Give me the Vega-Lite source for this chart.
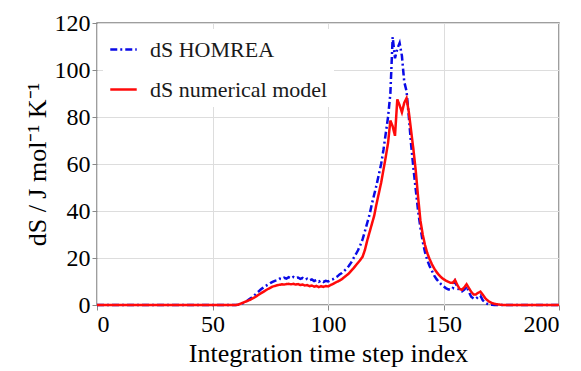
{
  "$schema": "https://vega.github.io/schema/vega-lite/v6.json",
  "autosize": {"type": "none"},
  "width": 462,
  "height": 282,
  "padding": {"left": 97, "top": 23, "right": 22, "bottom": 66},
  "background": "white",
  "config": {
    "view": {"stroke": "#7f7f7f", "strokeWidth": 1.5}
  },
  "data": {
    "values": [
      {"i": 0, "dS HOMREA": 0, "dS numerical model": 0},
      {"i": 10, "dS HOMREA": 0, "dS numerical model": 0},
      {"i": 20, "dS HOMREA": 0, "dS numerical model": 0},
      {"i": 30, "dS HOMREA": 0, "dS numerical model": 0},
      {"i": 40, "dS HOMREA": 0, "dS numerical model": 0},
      {"i": 50, "dS HOMREA": 0, "dS numerical model": 0},
      {"i": 55, "dS HOMREA": 0, "dS numerical model": 0},
      {"i": 60, "dS HOMREA": 0, "dS numerical model": 0},
      {"i": 61, "dS HOMREA": 0.1, "dS numerical model": 0.1},
      {"i": 62, "dS HOMREA": 0.3, "dS numerical model": 0.5},
      {"i": 63, "dS HOMREA": 0.7, "dS numerical model": 0.9},
      {"i": 64, "dS HOMREA": 1.2, "dS numerical model": 1.3},
      {"i": 65, "dS HOMREA": 1.8, "dS numerical model": 1.7},
      {"i": 66, "dS HOMREA": 2.5, "dS numerical model": 2.1},
      {"i": 67, "dS HOMREA": 3.2, "dS numerical model": 2.6},
      {"i": 68, "dS HOMREA": 4.0, "dS numerical model": 3.1},
      {"i": 69, "dS HOMREA": 4.9, "dS numerical model": 3.7},
      {"i": 70, "dS HOMREA": 5.8, "dS numerical model": 4.4},
      {"i": 71, "dS HOMREA": 6.7, "dS numerical model": 5.0},
      {"i": 72, "dS HOMREA": 7.4, "dS numerical model": 5.6},
      {"i": 73, "dS HOMREA": 8.1, "dS numerical model": 6.2},
      {"i": 74, "dS HOMREA": 8.7, "dS numerical model": 6.8},
      {"i": 75, "dS HOMREA": 9.3, "dS numerical model": 7.3},
      {"i": 76, "dS HOMREA": 9.8, "dS numerical model": 7.8},
      {"i": 77, "dS HOMREA": 10.3, "dS numerical model": 8.1},
      {"i": 78, "dS HOMREA": 10.6, "dS numerical model": 8.4},
      {"i": 79, "dS HOMREA": 11.2, "dS numerical model": 8.6},
      {"i": 80, "dS HOMREA": 11.0, "dS numerical model": 8.8},
      {"i": 81, "dS HOMREA": 11.6, "dS numerical model": 8.7},
      {"i": 82, "dS HOMREA": 11.2, "dS numerical model": 8.9},
      {"i": 83, "dS HOMREA": 11.8, "dS numerical model": 9.0},
      {"i": 84, "dS HOMREA": 11.3, "dS numerical model": 8.8},
      {"i": 85, "dS HOMREA": 11.9, "dS numerical model": 9.0},
      {"i": 86, "dS HOMREA": 11.4, "dS numerical model": 8.7},
      {"i": 87, "dS HOMREA": 11.7, "dS numerical model": 8.9},
      {"i": 88, "dS HOMREA": 11.1, "dS numerical model": 8.5},
      {"i": 89, "dS HOMREA": 11.5, "dS numerical model": 8.7},
      {"i": 90, "dS HOMREA": 10.8, "dS numerical model": 8.3},
      {"i": 91, "dS HOMREA": 11.2, "dS numerical model": 8.5},
      {"i": 92, "dS HOMREA": 10.5, "dS numerical model": 8.0},
      {"i": 93, "dS HOMREA": 10.9, "dS numerical model": 8.3},
      {"i": 94, "dS HOMREA": 10.2, "dS numerical model": 7.8},
      {"i": 95, "dS HOMREA": 10.6, "dS numerical model": 8.1},
      {"i": 96, "dS HOMREA": 9.9, "dS numerical model": 7.6},
      {"i": 97, "dS HOMREA": 10.4, "dS numerical model": 8.0},
      {"i": 98, "dS HOMREA": 9.8, "dS numerical model": 7.7},
      {"i": 99, "dS HOMREA": 10.3, "dS numerical model": 8.1},
      {"i": 100, "dS HOMREA": 10.0, "dS numerical model": 7.9},
      {"i": 101, "dS HOMREA": 10.5, "dS numerical model": 8.4},
      {"i": 102, "dS HOMREA": 10.9, "dS numerical model": 8.9},
      {"i": 103, "dS HOMREA": 11.5, "dS numerical model": 9.4},
      {"i": 104, "dS HOMREA": 12.1, "dS numerical model": 9.9},
      {"i": 105, "dS HOMREA": 13.0, "dS numerical model": 10.4},
      {"i": 106, "dS HOMREA": 13.6, "dS numerical model": 11.0},
      {"i": 107, "dS HOMREA": 14.5, "dS numerical model": 11.8},
      {"i": 108, "dS HOMREA": 15.4, "dS numerical model": 12.6},
      {"i": 109, "dS HOMREA": 16.6, "dS numerical model": 13.4},
      {"i": 110, "dS HOMREA": 18.0, "dS numerical model": 14.5},
      {"i": 111, "dS HOMREA": 19.8, "dS numerical model": 15.6},
      {"i": 112, "dS HOMREA": 21.5, "dS numerical model": 16.8},
      {"i": 113, "dS HOMREA": 23.3, "dS numerical model": 18.0},
      {"i": 114, "dS HOMREA": 25.5, "dS numerical model": 19.2},
      {"i": 115, "dS HOMREA": 28.0, "dS numerical model": 20.6},
      {"i": 116, "dS HOMREA": 31.5, "dS numerical model": 23.5},
      {"i": 117, "dS HOMREA": 35.0, "dS numerical model": 27.5},
      {"i": 118, "dS HOMREA": 38.5, "dS numerical model": 31.0},
      {"i": 119, "dS HOMREA": 43.0, "dS numerical model": 34.5},
      {"i": 120, "dS HOMREA": 47.0, "dS numerical model": 38.0},
      {"i": 121, "dS HOMREA": 51.0, "dS numerical model": 43.0},
      {"i": 122, "dS HOMREA": 55.5, "dS numerical model": 47.5},
      {"i": 123, "dS HOMREA": 60.0, "dS numerical model": 52.0},
      {"i": 124, "dS HOMREA": 66.0, "dS numerical model": 57.5},
      {"i": 125, "dS HOMREA": 73.0, "dS numerical model": 63.0},
      {"i": 126, "dS HOMREA": 80.0, "dS numerical model": 69.0},
      {"i": 127, "dS HOMREA": 90.0, "dS numerical model": 78.5},
      {"i": 128, "dS HOMREA": 114.0, "dS numerical model": 76.0},
      {"i": 129, "dS HOMREA": 105.0, "dS numerical model": 72.0},
      {"i": 130, "dS HOMREA": 109.0, "dS numerical model": 87.5},
      {"i": 131, "dS HOMREA": 111.5, "dS numerical model": 85.0},
      {"i": 132, "dS HOMREA": 106.0, "dS numerical model": 82.0},
      {"i": 133, "dS HOMREA": 95.0, "dS numerical model": 86.0},
      {"i": 134, "dS HOMREA": 91.0, "dS numerical model": 88.0},
      {"i": 135, "dS HOMREA": 80.0, "dS numerical model": 82.0},
      {"i": 136, "dS HOMREA": 68.0, "dS numerical model": 74.0},
      {"i": 137, "dS HOMREA": 58.0, "dS numerical model": 66.0},
      {"i": 138, "dS HOMREA": 49.0, "dS numerical model": 57.0},
      {"i": 139, "dS HOMREA": 40.0, "dS numerical model": 46.0},
      {"i": 140, "dS HOMREA": 33.0, "dS numerical model": 36.0},
      {"i": 141, "dS HOMREA": 27.0, "dS numerical model": 30.0},
      {"i": 142, "dS HOMREA": 22.5, "dS numerical model": 25.5},
      {"i": 143, "dS HOMREA": 19.0, "dS numerical model": 22.0},
      {"i": 144, "dS HOMREA": 16.5, "dS numerical model": 19.5},
      {"i": 145, "dS HOMREA": 14.5, "dS numerical model": 17.3},
      {"i": 146, "dS HOMREA": 12.5, "dS numerical model": 15.5},
      {"i": 147, "dS HOMREA": 11.0, "dS numerical model": 14.0},
      {"i": 148, "dS HOMREA": 9.8, "dS numerical model": 12.8},
      {"i": 149, "dS HOMREA": 8.8, "dS numerical model": 11.8},
      {"i": 150, "dS HOMREA": 7.9, "dS numerical model": 11.0},
      {"i": 151, "dS HOMREA": 7.2, "dS numerical model": 10.4},
      {"i": 152, "dS HOMREA": 6.7, "dS numerical model": 9.9},
      {"i": 153, "dS HOMREA": 6.4, "dS numerical model": 9.5},
      {"i": 154, "dS HOMREA": 7.0, "dS numerical model": 9.4},
      {"i": 155, "dS HOMREA": 10.0, "dS numerical model": 10.6},
      {"i": 156, "dS HOMREA": 7.5, "dS numerical model": 8.5},
      {"i": 157, "dS HOMREA": 6.0, "dS numerical model": 6.8},
      {"i": 158, "dS HOMREA": 5.8, "dS numerical model": 6.5},
      {"i": 159, "dS HOMREA": 6.5, "dS numerical model": 7.5},
      {"i": 160, "dS HOMREA": 8.0, "dS numerical model": 8.8},
      {"i": 161, "dS HOMREA": 5.5, "dS numerical model": 7.2},
      {"i": 162, "dS HOMREA": 3.5, "dS numerical model": 5.6},
      {"i": 163, "dS HOMREA": 2.8, "dS numerical model": 4.5},
      {"i": 164, "dS HOMREA": 2.6, "dS numerical model": 4.5},
      {"i": 165, "dS HOMREA": 3.5, "dS numerical model": 5.2},
      {"i": 166, "dS HOMREA": 4.0, "dS numerical model": 5.7},
      {"i": 167, "dS HOMREA": 2.0, "dS numerical model": 4.4},
      {"i": 168, "dS HOMREA": 1.0, "dS numerical model": 3.0},
      {"i": 169, "dS HOMREA": 0.5, "dS numerical model": 2.0},
      {"i": 170, "dS HOMREA": 0.2, "dS numerical model": 1.3},
      {"i": 171, "dS HOMREA": 0.1, "dS numerical model": 0.8},
      {"i": 172, "dS HOMREA": 0, "dS numerical model": 0.5},
      {"i": 173, "dS HOMREA": 0, "dS numerical model": 0.3},
      {"i": 174, "dS HOMREA": 0, "dS numerical model": 0.2},
      {"i": 175, "dS HOMREA": 0, "dS numerical model": 0.1},
      {"i": 176, "dS HOMREA": 0, "dS numerical model": 0},
      {"i": 180, "dS HOMREA": 0, "dS numerical model": 0},
      {"i": 185, "dS HOMREA": 0, "dS numerical model": 0},
      {"i": 190, "dS HOMREA": 0, "dS numerical model": 0},
      {"i": 195, "dS HOMREA": 0, "dS numerical model": 0},
      {"i": 200, "dS HOMREA": 0, "dS numerical model": 0}
    ]
  },
  "transform": [
    {"fold": ["dS HOMREA", "dS numerical model"], "as": ["series", "value"]}
  ],
  "mark": {"type": "line", "strokeWidth": 2.5},
  "encoding": {
    "x": {
      "field": "i",
      "type": "quantitative",
      "axis": {
        "title": "Integration time step index",
        "tickCount": 4,
        "domain": false,
        "labelFont": "Liberation Serif",
        "labelFontSize": 24,
        "titleFont": "Liberation Serif",
        "titleFontSize": 26,
        "titleFontWeight": "normal"
      }
    },
    "y": {
      "field": "value",
      "type": "quantitative",
      "axis": {
        "title": "dS / J mol⁻¹ K⁻¹",
        "domain": false,
        "labelFont": "Liberation Serif",
        "labelFontSize": 24,
        "titleFont": "Liberation Serif",
        "titleFontSize": 26,
        "titleFontWeight": "normal"
      }
    },
    "color": {
      "field": "series",
      "type": "nominal",
      "scale": {"domain": ["dS HOMREA", "dS numerical model"], "range": ["#0a0ae6", "#ff0a0a"]},
      "legend": {
        "title": null,
        "orient": "top-left",
        "offset": 6,
        "fillColor": "white",
        "padding": 6,
        "symbolType": "stroke",
        "symbolSize": 700,
        "symbolStrokeWidth": 2.5,
        "labelFont": "Liberation Serif",
        "labelFontSize": 22,
        "labelOffset": 12,
        "labelColor": "#1a1a1a",
        "labelLimit": 300,
        "rowPadding": 14
      }
    },
    "strokeDash": {
      "field": "series",
      "type": "nominal",
      "scale": {"domain": ["dS HOMREA", "dS numerical model"], "range": [[7, 3, 2, 3], [1, 0]]},
      "legend": null
    }
  }
}
